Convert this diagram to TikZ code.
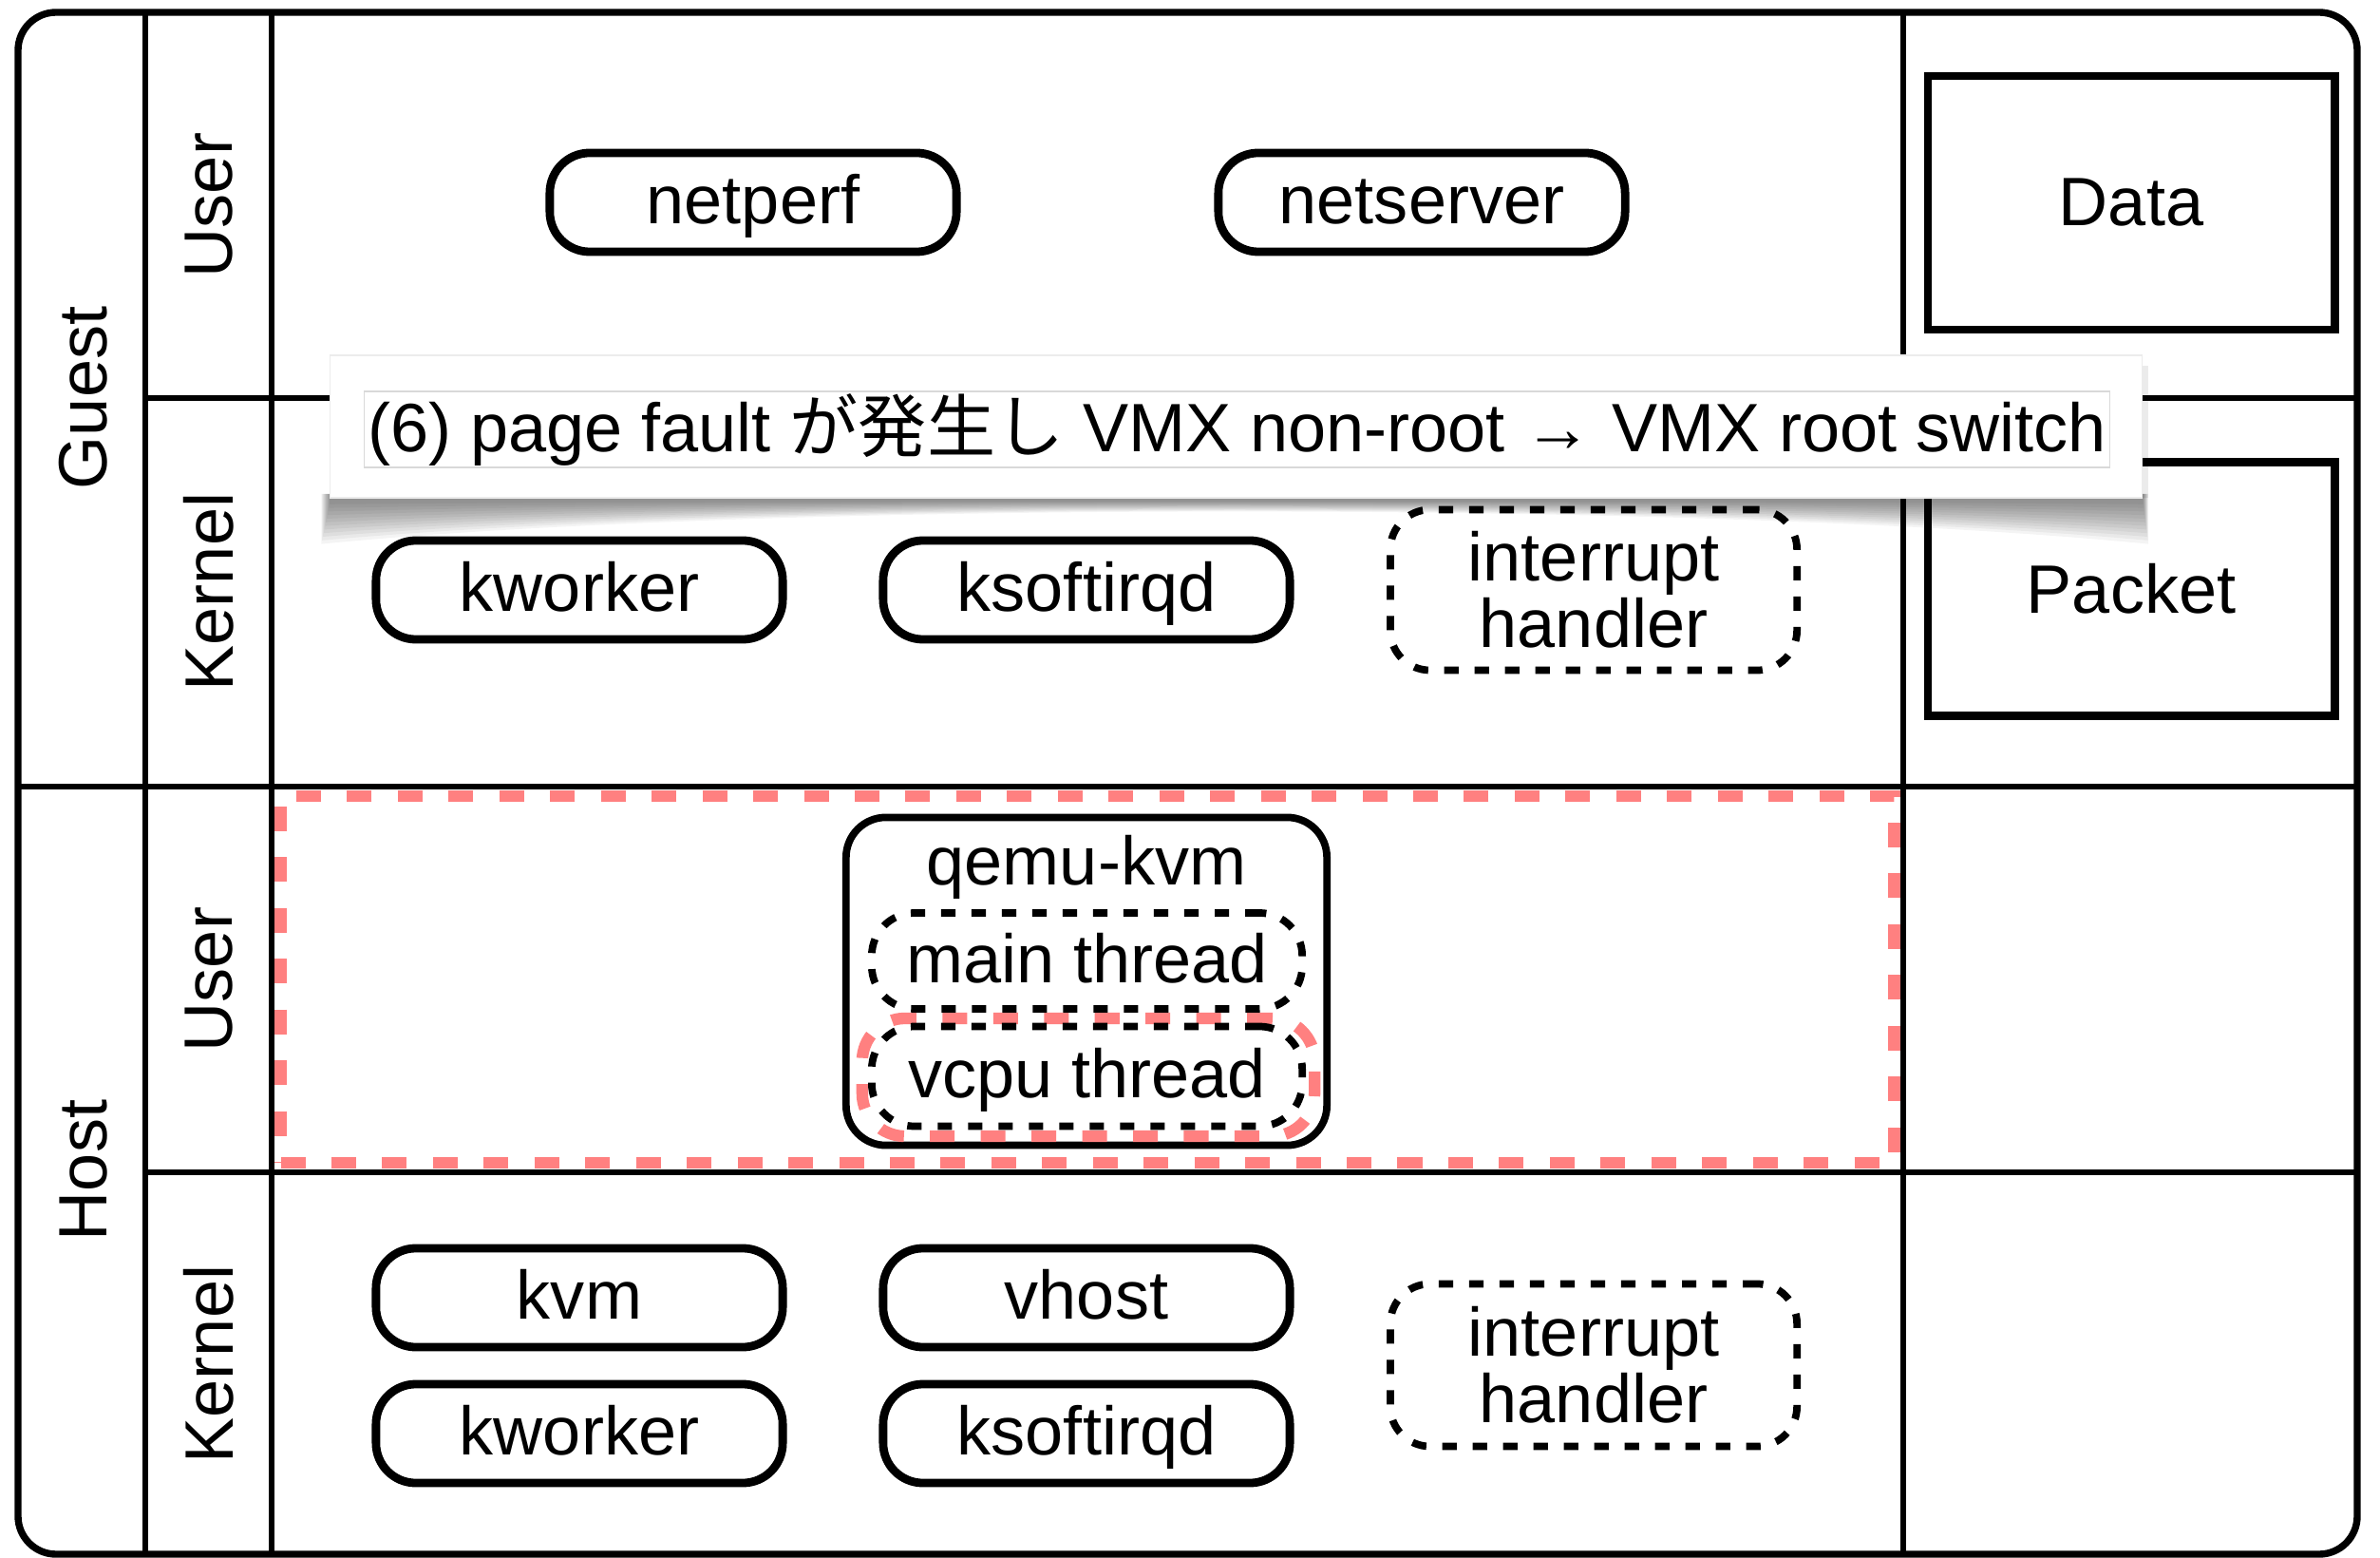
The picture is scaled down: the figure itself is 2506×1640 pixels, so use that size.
\documentclass[tikz,border=0pt]{standalone}
\usepackage{fontspec}
\setmainfont{Liberation Sans}
\newfontfamily\jpfont{Noto Sans CJK JP}
\definecolor{salmon}{RGB}{255,128,128}
\begin{document}
\begin{tikzpicture}[x=0.01cm,y=-0.01cm,
  txt/.style={font=\fontsize{20.5}{20}\selectfont},
  gridline/.style={line width=1.9pt},
  proc/.style={draw, line width=2.5pt, rounded corners=0.42cm, minimum width=4.28cm,
    minimum height=1.04cm, inner sep=0pt, txt, text height=15pt, text depth=2pt},
  dashedline/.style={line width=2.2pt, dash pattern=on 4.3pt off 4.8pt},
  irq/.style={draw, dashedline, rounded corners=0.42cm, minimum width=4.28cm,
    minimum height=1.69cm, inner sep=0pt, txt, align=center},
  thr/.style={draw, dashedline, rounded corners=0.45cm, minimum width=4.53cm,
    inner sep=0pt, txt, text height=15pt, text depth=2pt},
  reddash/.style={draw=salmon, line width=3.5pt, dash pattern=on 7.4pt off 7.8pt},
  databox/.style={draw, line width=2.5pt, minimum width=4.28cm, inner sep=0pt, txt},
  side/.style={txt, rotate=90, inner sep=0pt}
]
\useasboundingbox[fill=white] (0,0) rectangle (2506,1640);

% outer frame and grid
\draw[line width=2.1pt, rounded corners=0.4cm] (19,13) rectangle (2482,1636);
\draw[gridline] (153,13) -- (153,1636);
\draw[gridline] (286,13) -- (286,1636);
\draw[gridline] (2004,13) -- (2004,1636);
\draw[gridline] (19,828) -- (2482,828);
\draw[gridline] (153,419) -- (2482,419);
\draw[gridline] (153,1234) -- (2482,1234);

% side labels
\node[side] (guest) at (88,419) {Guest};
\node[side] (host) at (88,1232) {Host};
\node[side] (guser) at (220,216) {User};
\node[side] (gkernel) at (220,623) {Kernel};
\node[side] (huser) at (220,1031) {User};
\node[side] (hkernel) at (220,1436) {Kernel};

% right column
\node[databox, minimum height=2.67cm] (data) at (2244,213.5) {Data};
\node[databox, minimum height=2.67cm] (packet) at (2244,620) {Packet};

% guest user
\node[proc] (netperf) at (793,213) {netperf};
\node[proc] (netserver) at (1497,213) {netserver};

% guest kernel
\node[proc] (gkworker) at (610,621) {kworker};
\node[proc] (gksoftirqd) at (1144,621) {ksoftirqd};
\node[irq] (girq) at (1678,621) {interrupt\\handler};

% host user
\node[reddash, minimum width=16.98cm, minimum height=3.86cm, inner sep=0pt] (hostregion) at (1145,1031) {};
\node[draw, line width=2.2pt, rounded corners=0.42cm, minimum width=5.06cm, minimum height=3.45cm, inner sep=0pt] (qemu) at (1144,1033) {};
\node[txt] (qemulbl) at (1144,913) {qemu-kvm};
\node[reddash, rounded corners=0.45cm, minimum width=4.76cm, minimum height=1.24cm, inner sep=0pt] (vcpured) at (1146,1134) {};
\node[thr, minimum height=1.01cm] (mainth) at (1144.5,1011.5) {main thread};
\node[thr, minimum height=1.05cm] (vcputh) at (1144.5,1133) {vcpu thread};

% host kernel
\node[proc] (kvm) at (610,1366) {kvm};
\node[proc] (vhost) at (1144,1366) {vhost};
\node[proc] (hkworker) at (610,1509) {kworker};
\node[proc] (hksoftirqd) at (1144,1509) {ksoftirqd};
\node[irq, minimum height=1.71cm] (hirq) at (1678,1437) {interrupt\\handler};

% caption box with curled shadow
\foreach \i in {1,...,12}{
  \fill[black, fill opacity=0.045]
    ({348-0.8*\i},520) -- ({2256+0.5*\i},520) -- ({2256+0.5*\i},{527+3.8*\i})
    .. controls (1800,527) and (800,527) .. ({348-0.8*\i},{527+3.8*\i}) -- cycle;
}
\fill[black, fill opacity=0.08] (2256,385) rectangle (2262,524);
\node[fill=white, draw=gray!15, line width=0.4pt, minimum width=19.07cm, minimum height=1.5cm, inner sep=0pt] (cap) at (1301.5,449) {};
\node[draw=gray!30, line width=0.5pt, minimum width=18.37cm, minimum height=0.8cm, inner sep=0pt, txt] (capin) at (1302.5,452)
  {(6) page fault {\jpfont が発生し} VMX non-root → VMX root switch};
\end{tikzpicture}
\end{document}
